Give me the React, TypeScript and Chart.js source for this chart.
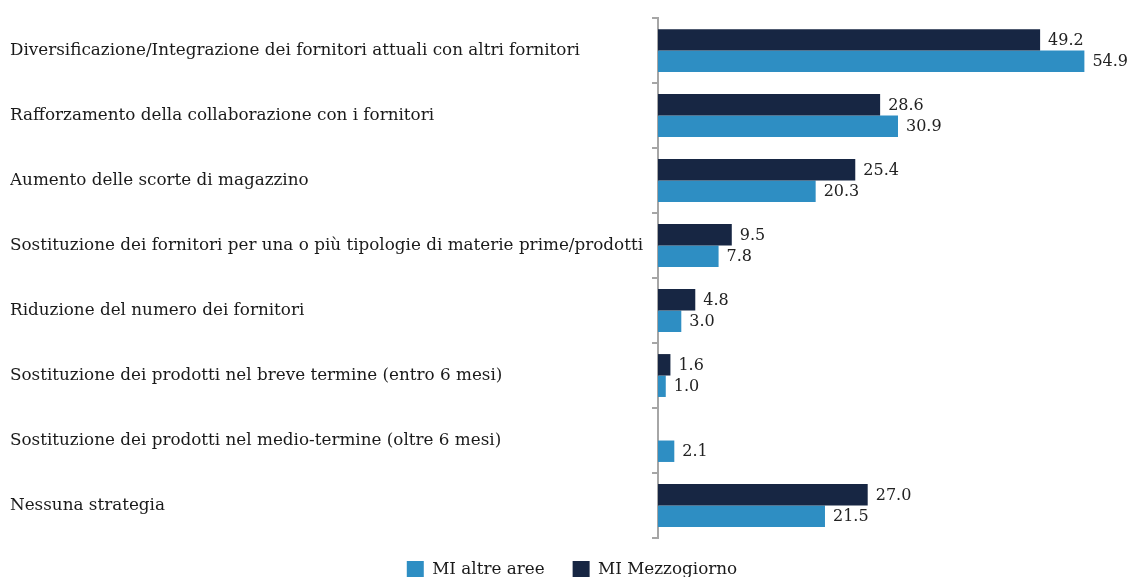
import React, { useEffect, useRef } from "react";
import { Chart, registerables } from "chart.js";

Chart.register(...registerables);

const categories = [
  "Diversificazione/Integrazione dei fornitori attuali con altri fornitori",
  "Rafforzamento della collaborazione con i fornitori",
  "Aumento delle scorte di magazzino",
  "Sostituzione dei fornitori per una o più tipologie di materie prime/prodotti",
  "Riduzione del numero dei fornitori",
  "Sostituzione dei prodotti nel breve termine (entro 6 mesi)",
  "Sostituzione dei prodotti nel medio-termine (oltre 6 mesi)",
  "Nessuna strategia",
];
const mezzogiorno: (number | null)[] = [49.2, 28.6, 25.4, 9.5, 4.8, 1.6, null, 27.0];
const altreAree: (number | null)[] = [54.9, 30.9, 20.3, 7.8, 3.0, 1.0, 2.1, 21.5];

const FONT = "'DejaVu Serif', serif";

const valueLabels = {
  id: "valueLabels",
  afterLayout(chart: any) {
    const lg = chart.legend;
    if (lg) {
      lg.top -= 5;
      lg.bottom -= 5;
      lg.left += 5;
      lg.right += 5;
    }
  },
  afterDatasetsDraw(chart: any) {
    const ctx = chart.ctx;
    ctx.save();
    ctx.font = `16px ${FONT}`;
    ctx.fillStyle = "#222";
    ctx.textAlign = "left";
    ctx.textBaseline = "middle";
    chart.data.datasets.forEach((ds: any, i: number) => {
      const meta = chart.getDatasetMeta(i);
      meta.data.forEach((el: any, j: number) => {
        const v = ds.data[j];
        if (v === null || v === undefined) return;
        ctx.fillText(v.toFixed(1), el.x + 8, el.y + 1);
      });
    });
    ctx.restore();
  },
};

export default function App() {
  const ref = useRef<HTMLCanvasElement | null>(null);
  useEffect(() => {
    if (!ref.current) return;
    const chart = new Chart(ref.current, {
      type: "bar",
      data: {
        labels: categories,
        datasets: [
          {
            label: "MI Mezzogiorno",
            data: mezzogiorno,
            backgroundColor: "#172643",
            categoryPercentage: 0.66,
            barPercentage: 1,
          },
          {
            label: "MI altre aree",
            data: altreAree,
            backgroundColor: "#2e8ec3",
            categoryPercentage: 0.66,
            barPercentage: 1,
          },
        ],
      },
      options: {
        indexAxis: "y",
        animation: false,
        responsive: false,
        maintainAspectRatio: false,
        layout: { padding: { left: 10, right: 9, top: 17, bottom: -16 } },
        scales: {
          x: {
            display: false,
            min: 0,
            max: 60,
          },
          y: {
            afterFit(scale: any) {
              scale.width = 648;
            },
            grid: {
              display: true,
              offset: true,
              drawOnChartArea: false,
              drawTicks: true,
              tickLength: 6,
              color: "#a6a6a6",
              lineWidth: 2,
            },
            border: { display: true, color: "#a6a6a6", width: 2 },
            ticks: {
              crossAlign: "far",
              color: "#1a1a1a",
              font: { family: FONT, size: 16.8 },
              padding: 8,
            },
          },
        },
        plugins: {
          legend: {
            position: "bottom",
            reverse: true,
            labels: {
              boxWidth: 17,
              boxHeight: 17,
              color: "#1a1a1a",
              font: { family: FONT, size: 16.8 },
              padding: 28,
            },
          },
          tooltip: { enabled: false },
        },
      },
      plugins: [valueLabels],
    });
    return () => chart.destroy();
  }, []);
  return (
    <div style={{ position: "absolute", left: 0, top: 0, width: 1133, height: 577, background: "#fff" }}>
      <canvas ref={ref} width={1133} height={577} />
    </div>
  );
}
